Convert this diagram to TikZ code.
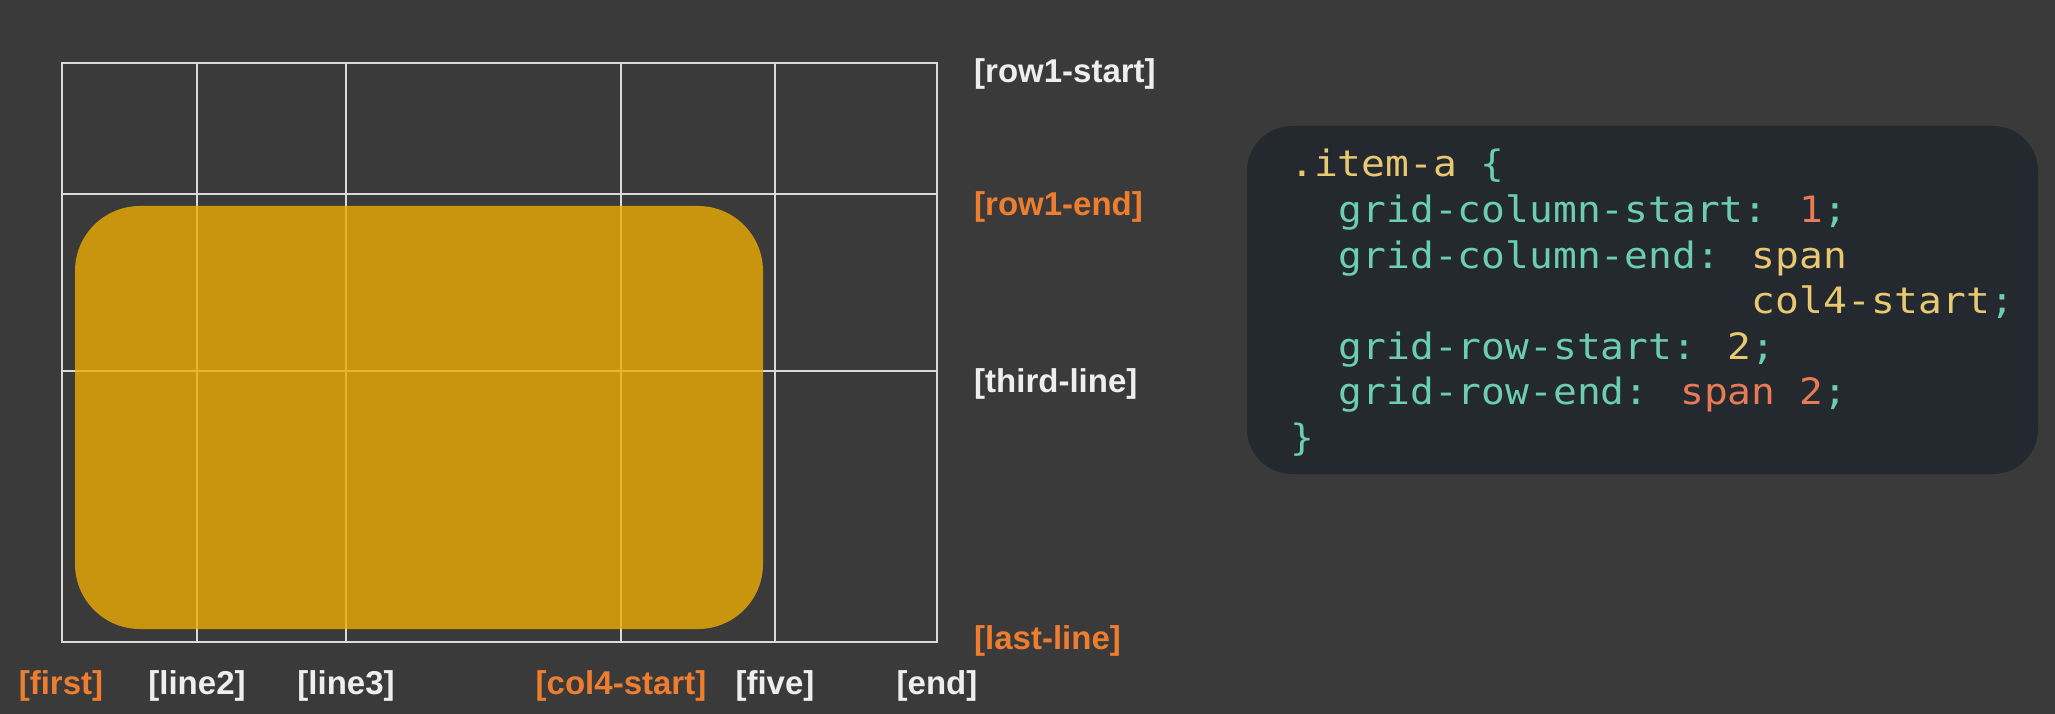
\documentclass[tikz,border=0pt]{standalone}
\usepackage{fontspec}
\setmainfont{Liberation Sans}
\newfontfamily\codefont[FakeStretch=1.09]{DejaVu Sans Mono}
\definecolor{bgc}{RGB}{58,58,58}
\definecolor{gridc}{RGB}{218,218,218}
\definecolor{itemc}{RGB}{237,172,4}
\definecolor{lblw}{RGB}{238,238,238}
\definecolor{lblo}{RGB}{238,125,47}
\definecolor{panelc}{RGB}{35,41,47}
\definecolor{cteal}{RGB}{108,204,182}
\definecolor{cyel}{RGB}{232,200,112}
\definecolor{corg}{RGB}{232,122,86}
\tikzset{
  gridline/.style={draw=gridc, line width=2pt},
  lbl/.style={inner sep=0pt, font=\fontsize{33}{40}\selectfont\bfseries},
  rlbl/.style={lbl, anchor=base west},
  blbl/.style={lbl, anchor=base},
  codeline/.style={inner sep=0pt, anchor=base west, font=\codefont\fontsize{36.3}{46}\selectfont, text=cteal},
}
\begin{document}
\begin{tikzpicture}[x=1pt,y=-1pt]
\useasboundingbox (0,0) rectangle (2055,714);
\fill[bgc] (0,0) rectangle (2055,714);
% grid
\foreach \xx in {197,346,621,775} \draw[gridline] (\xx,63) -- (\xx,642);
\foreach \yy in {194,371} \draw[gridline] (62,\yy) -- (937,\yy);
\draw[gridline, line width=2.6pt] (62,63) rectangle (937,642);
% item
\fill[itemc, fill opacity=0.8, rounded corners=65pt] (75,206) rectangle (763,629);
% right labels
\node[rlbl, text=lblw] (r1s) at (974,83) {[row1-start]};
\node[rlbl, text=lblo] (r1e) at (974,215) {[row1-end]};
\node[rlbl, text=lblw] (r3) at (974,392) {[third-line]};
\node[rlbl, text=lblo] (rl) at (974,649) {[last-line]};
% bottom labels
\node[blbl, text=lblo] (cfirst) at (61,694) {[first]};
\node[blbl, text=lblw] (cl2) at (197,694) {[line2]};
\node[blbl, text=lblw] (cl3) at (346,694) {[line3]};
\node[blbl, text=lblo] (cc4) at (621,694) {[col4-start]};
\node[blbl, text=lblw] (cfive) at (775,694) {[five]};
\node[blbl, text=lblw] (cend) at (937,694) {[end]};
% code panel
\fill[panelc, rounded corners=45pt] (1247,126) rectangle (2038,474);
\node[codeline] (c1) at (1290,177) {\textcolor{cyel}{.item-a} \{};
\node[codeline] (c2) at (1338.6,222.5) {grid-column-start: \textcolor{corg}{1};};
\node[codeline] (c3) at (1338.6,268) {grid-column-end: \textcolor{cyel}{span}};
\node[codeline] (c4) at (1751.7,313.5) {\textcolor{cyel}{col4-start};};
\node[codeline] (c5) at (1338.6,359) {grid-row-start: \textcolor{cyel}{2};};
\node[codeline] (c6) at (1338.6,404.5) {grid-row-end: \textcolor{corg}{span 2};};
\node[codeline] (c7) at (1290,450) {\}};
\end{tikzpicture}
\end{document}
